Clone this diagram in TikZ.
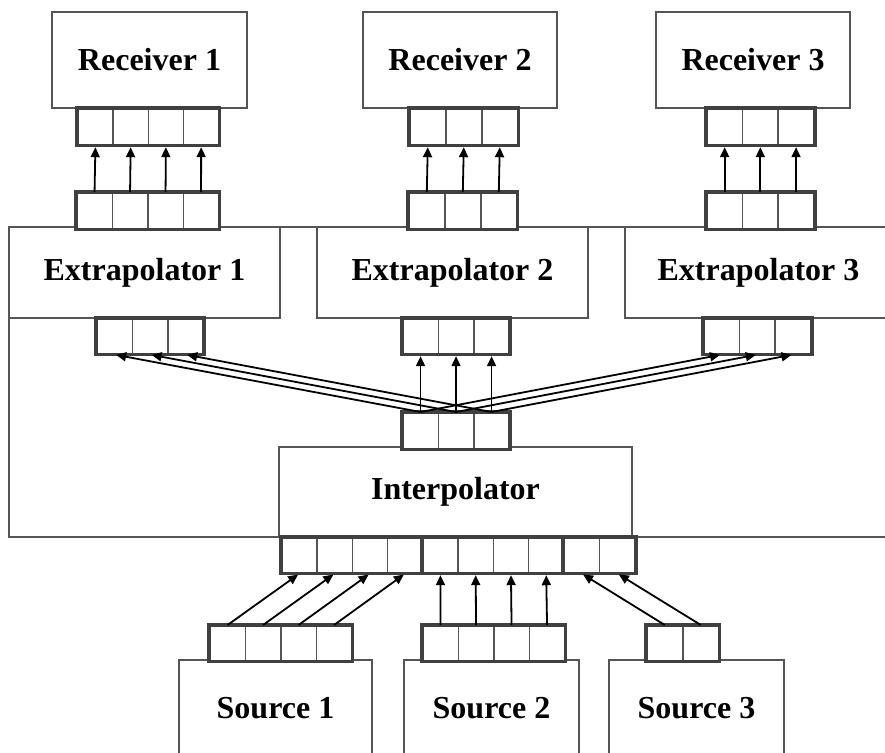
\documentclass[tikz,border=0pt]{standalone}
\usepackage{fontspec}
\setmainfont{Liberation Serif}
\usetikzlibrary{arrows.meta}
\definecolor{boxgray}{HTML}{555555}
\definecolor{reggray}{HTML}{404040}
\definecolor{cellgray}{HTML}{555555}
\newcommand\regbox[6]{% name, x, y, n, cell width, cell height
  \foreach \k in {1,...,#4}{%
    \node[cell, minimum width=#5pt, minimum height=#6pt] (#1-\k) at ({#2+(\k-1)*#5},#3) {};
  }
  \draw[regframe] (#1-1.north west) rectangle (#1-#4.south east);
}
\begin{document}
\begin{tikzpicture}[x=1pt,y=-1pt,
  box/.style={draw=boxgray, line width=1.5pt, fill=white, inner sep=0pt,
    font=\fontsize{32}{38}\selectfont\bfseries},
  frame/.style={draw=boxgray, line width=1.5pt},
  cell/.style={draw=cellgray, line width=1.6pt, fill=white, inner sep=0pt, anchor=north west},
  regframe/.style={draw=reggray, line width=3.6pt},
  arr/.style={line width=1.8pt, shorten >=1.6pt, -{Triangle[length=10pt,width=9pt]}}]
\useasboundingbox (0,0) rectangle (885,752);
\clip (0,0) rectangle (885,752);

% outer frame
\draw[frame] (9,227) rectangle (892,537);

% receivers
\node[box, minimum width=195pt, minimum height=96pt] (rec1) at (149.5,60) {Receiver 1};
\node[box, minimum width=194pt, minimum height=96pt] (rec2) at (460,60) {Receiver 2};
\node[box, minimum width=194pt, minimum height=96pt] (rec3) at (753,60) {Receiver 3};

% extrapolators
\node[box, minimum width=271pt, minimum height=91pt] (ext1) at (144.5,272.5) {Extrapolator 1};
\node[box, minimum width=271pt, minimum height=91pt] (ext2) at (452.5,272.5) {Extrapolator 2};
\node[box, minimum width=267pt, minimum height=91pt] (ext3) at (758.5,272.5) {Extrapolator 3};

% interpolator
\node[box, minimum width=353pt, minimum height=90pt] (interp) at (455.5,492) {Interpolator};

% sources
\node[box, minimum width=193pt, minimum height=96pt] (src1) at (275.5,708) {Source 1};
\node[box, minimum width=175pt, minimum height=96pt] (src2) at (491.5,708) {Source 2};
\node[box, minimum width=175pt, minimum height=96pt] (src3) at (696.5,708) {Source 3};

% registers
\regbox{r1i}{77}{108}{4}{35.25}{36}
\regbox{r2i}{409}{108}{3}{36}{36}
\regbox{r3i}{706}{108}{3}{35.7}{36}
\regbox{e1t}{76}{192}{4}{35.5}{36}
\regbox{e2t}{408}{192}{3}{36}{36}
\regbox{e3t}{706}{192}{3}{35.7}{36}
\regbox{e1b}{96}{318}{3}{35.5}{35}
\regbox{e2b}{402}{318}{3}{35.5}{35}
\regbox{e3b}{703}{318}{3}{35.7}{35}
\regbox{it}{402}{412}{3}{35.5}{36}
\regbox{ib1}{281}{537}{4}{35.25}{35}
\regbox{ib2}{422}{537}{4}{35.25}{35}
\regbox{ib3}{563}{537}{2}{35.75}{35}
\regbox{s1}{209}{625}{4}{35.5}{35}
\regbox{s2}{422}{625}{4}{35.5}{35}
\regbox{s3}{646}{625}{2}{36}{35}

% connectors: extrapolators to receivers
\foreach \k in {1,...,4}{\draw[arr] (e1t-\k.north) -- (r1i-\k.south);}
\foreach \k in {1,...,3}{\draw[arr] (e2t-\k.north) -- (r2i-\k.south);}
\foreach \k in {1,...,3}{\draw[arr] (e3t-\k.north) -- (r3i-\k.south);}

% interpolator to extrapolators
\foreach \k in {1,...,3}{
  \draw[arr] (it-\k.north) -- (e1b-\k.south);
  \draw[arr] (it-\k.north) -- (e2b-\k.south);
  \draw[arr] (it-\k.north) -- (e3b-\k.south);
}

% sources to interpolator
\foreach \k in {1,...,4}{\draw[arr] (s1-\k.north) -- (ib1-\k.south);}
\foreach \k in {1,...,4}{\draw[arr] (s2-\k.north) -- (ib2-\k.south);}
\foreach \k in {1,...,2}{\draw[arr] (s3-\k.north) -- (ib3-\k.south);}
\end{tikzpicture}
\end{document}
